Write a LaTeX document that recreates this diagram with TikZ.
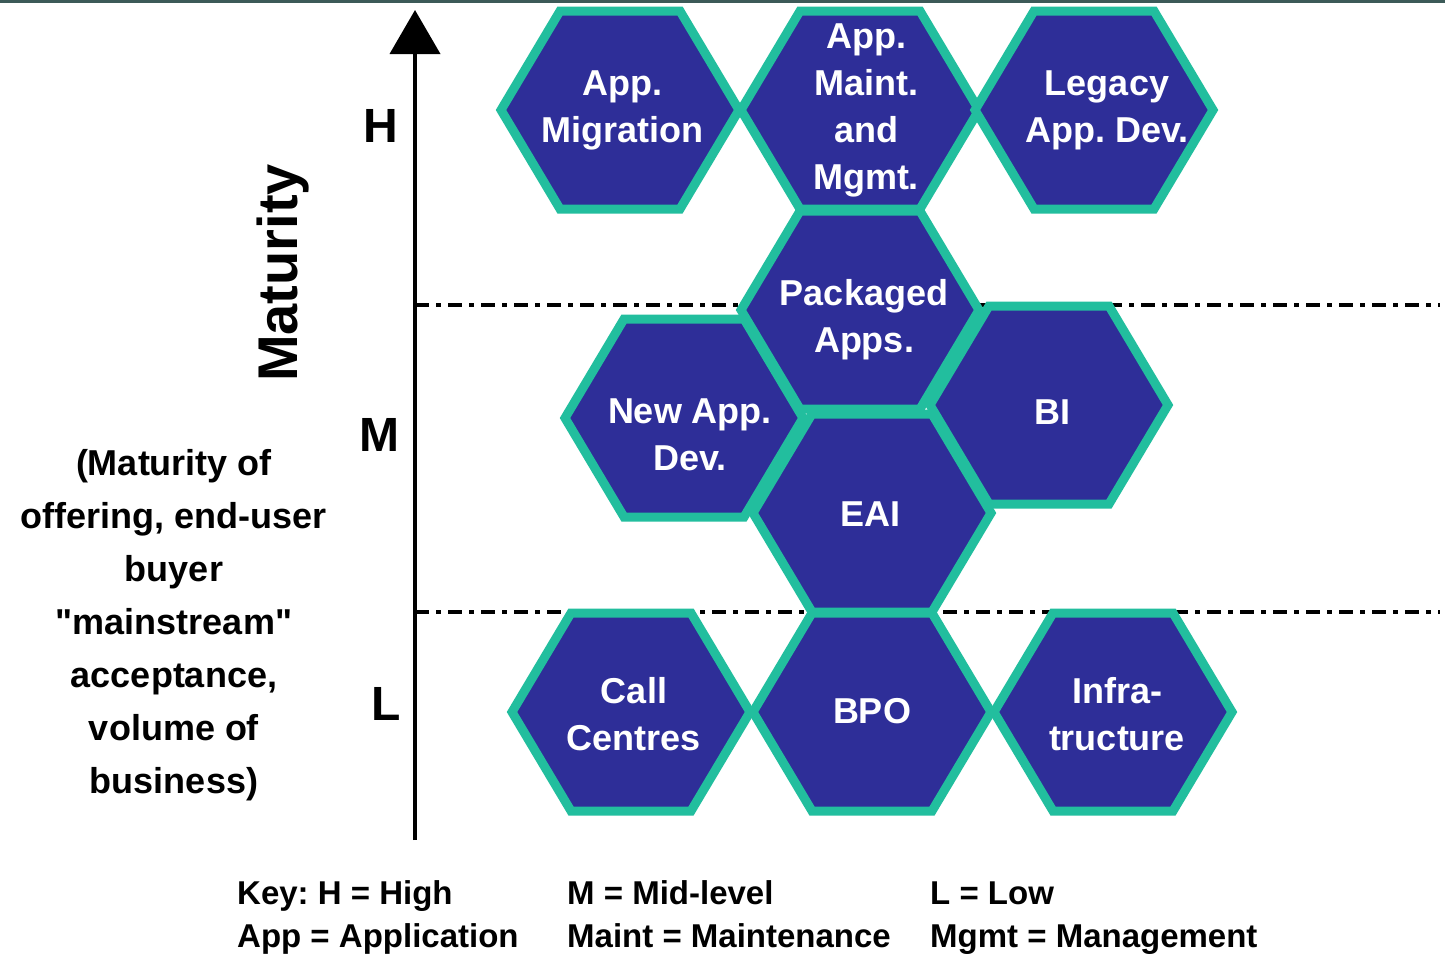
\documentclass[tikz,border=0pt]{standalone}
\usepackage{fontspec}
\setmainfont{Liberation Sans}
\newfontfamily\qfont{Liberation Sans}
\usetikzlibrary{arrows.meta}
\definecolor{hexfill}{HTML}{2E2E98}
\definecolor{hexedge}{HTML}{22BE9E}
\definecolor{topline}{HTML}{3C5A58}
\frenchspacing
\newcommand{\sq}{{\qfont\bfseries\symbol{34}}}
\tikzset{
  hexshape/.style={fill=hexfill, draw=hexedge, line width=9pt, line join=miter},
  hexlabel/.style={text=white, font=\bfseries\fontsize{36}{47}\selectfont, align=center, inner sep=0pt},
  levellabel/.style={font=\bfseries\fontsize{48}{48}\selectfont, inner sep=0pt},
  keytext/.style={font=\bfseries\fontsize{33}{33}\selectfont, anchor=base west, inner sep=0pt},
  levelline/.style={line width=3.5pt, dash pattern=on 14pt off 7pt on 5pt off 7pt}
}
\newcommand{\hexat}[2]{%
  \draw[hexshape] (#1-119,#2) -- (#1-60,#2-99) -- (#1+60,#2-99) -- (#1+119,#2) -- (#1+60,#2+99) -- (#1-60,#2+99) -- cycle;}
\begin{document}
\begin{tikzpicture}[x=1pt,y=-1pt]
\useasboundingbox (0,0) rectangle (1445,954);
\fill[white] (0,0) rectangle (1445,954);
\draw[topline, line width=3pt] (0,1.5) -- (1445,1.5);
% level separators
\coordinate (sepHa) at (415,305);
\coordinate (sepHb) at (1440,305);
\coordinate (sepLa) at (415,612);
\coordinate (sepLb) at (1440,612);
\draw[levelline] (sepHa) -- (sepHb);
\draw[levelline] (sepLa) -- (sepLb);
% hexagons
\hexat{620}{110}
\hexat{860}{110}
\hexat{1094}{110}
\hexat{860}{310}
\hexat{684}{418}
\hexat{1049}{405}
\hexat{872}{513}
\hexat{631}{712}
\hexat{872}{712}
\hexat{1113}{712}
% hex labels
\node[hexlabel] (mig) at (622,110) {App.\\Migration};
\node[hexlabel] (maint) at (866,110) {App.\\Maint.\\and\\Mgmt.};
\node[hexlabel] (legacy) at (1107,110) {Legacy\\App. Dev.};
\node[hexlabel] (pack) at (864,320) {Packaged\\Apps.};
\node[hexlabel] (newapp) at (690,435) {New App.\\Dev.};
\node[hexlabel] (bi) at (1052,412) {BI};
\node[hexlabel] (eai) at (870,514) {EAI};
\node[hexlabel] (call) at (634,714) {Call\\Centres};
\node[hexlabel] (bpo) at (872,711) {BPO};
\node[hexlabel] (infra) at (1117,714) {Infra-\\tructure};
% axis
\coordinate (axbot) at (415,840);
\coordinate (axtop) at (415,10);
\draw[line width=4pt, -{Triangle[length=44pt,width=50pt]}] (axbot) -- (axtop);
\node[levellabel] (H) at (381,126) {H};
\node[levellabel] (M) at (379,435) {M};
\node[levellabel] (L) at (386,704) {L};
\node[font=\bfseries\fontsize{56}{56}\selectfont, rotate=90, inner sep=0pt] (mat) at (283,273) {Maturity};
\node[font=\bfseries\fontsize{36}{53}\selectfont, align=center, inner sep=0pt] (desc) at (174,625)
  {(Maturity of\\offering, end-user\\buyer\\\sq mainstream\sq\\acceptance,\\volume of\\business)};
% key
\node[keytext] (k1) at (237,904) {Key: H = High};
\node[keytext] (k2) at (567,904) {M = Mid-level};
\node[keytext] (k3) at (930,904) {L = Low};
\node[keytext] (k4) at (237,947) {App = Application};
\node[keytext] (k5) at (567,947) {Maint = Maintenance};
\node[keytext] (k6) at (930,947) {Mgmt = Management};
\end{tikzpicture}
\end{document}
